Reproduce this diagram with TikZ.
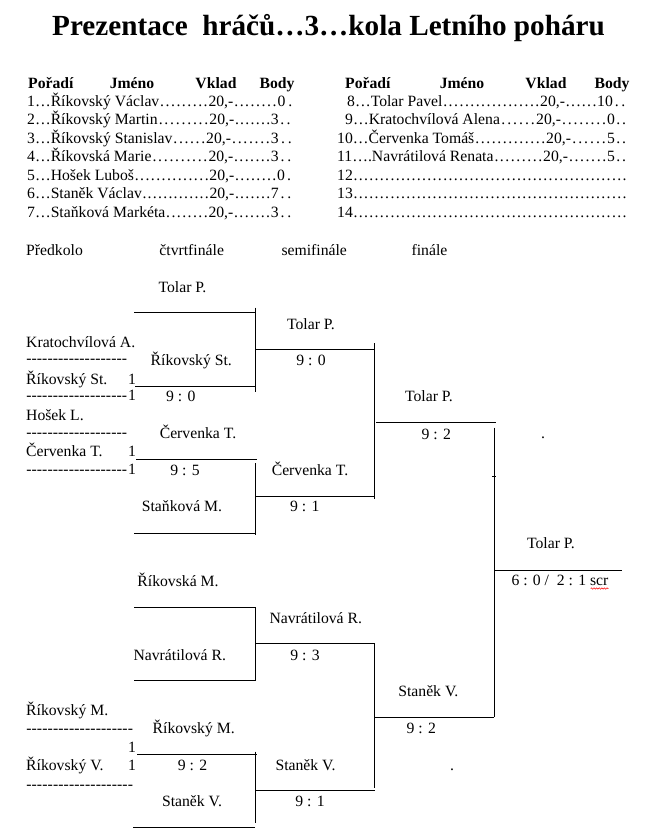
\documentclass[tikz,border=0pt]{standalone}
\usepackage{fontspec}
\setmainfont{Liberation Serif}
\usetikzlibrary{decorations.pathmorphing,calc}
\newcommand\ld{\xleaders\hbox to 5.2pt{\hss.\hss}\hfill}
\newcommand\trow[6]{\hbox to \dimexpr #3pt-#1pt\relax{#2\ld}\hbox to \dimexpr #5pt-#3pt\relax{20,-\ld}\hbox to \dimexpr #6pt-#5pt\relax{#4\ld}}
\newcommand\hyrow[1]{\hbox to #1pt{\xleaders\hbox{-}\hfill}}
\begin{document}
\begin{tikzpicture}[x=1pt,y=-1pt,
  t/.style={anchor=base, inner sep=0pt, font=\fontsize{15.7}{15.7}\selectfont},
  tl/.style={t, anchor=base west},
  hd/.style={t, font=\fontsize{15.7}{15.7}\selectfont\bfseries},
  ln/.style={line width=0.9pt}]
\fill[white] (0,0) rectangle (660,838);
\useasboundingbox (0,0) rectangle (660,838);
% title
\node[anchor=base, inner sep=0pt, font=\fontsize{29.2}{29.2}\selectfont\bfseries] (title) at (328.5,35) {Prezentace\ \ hráčů…3…kola Letního poháru};
% table headers
\node[hd, anchor=base west] (h1) at (28,88) {Pořadí};
\node[hd] (h2) at (132,88) {Jméno};
\node[hd] (h3) at (216,88) {Vklad};
\node[hd] (h4) at (277,88) {Body};
\node[hd, anchor=base west] (h5) at (345,88) {Pořadí};
\node[hd] (h6) at (462,88) {Jméno};
\node[hd] (h7) at (546,88) {Vklad};
\node[hd] (h8) at (612,88) {Body};
% left table rows
\node[tl] (r1) at (27,106) {\trow{27}{1…Říkovský Václav}{208.3}{0}{277.3}{295}};
\node[tl] (r2) at (27,124.5) {\trow{27}{2…Říkovský Martin}{209.3}{3}{270.7}{292}};
\node[tl] (r3) at (27,143) {\trow{27}{3…Říkovský Stanislav}{206}{3}{270.7}{294}};
\node[tl] (r4) at (27,161.5) {\trow{27}{4…Říkovská Marie}{208.3}{3}{270.7}{293}};
\node[tl] (r5) at (27,180) {\trow{27}{5…Hošek Luboš}{209.3}{0}{277}{293}};
\node[tl] (r6) at (27,198.5) {\trow{27}{6…Staněk Václav}{209.3}{7}{270.7}{293}};
\node[tl] (r7) at (27,217) {\trow{27}{7…Staňková Markéta}{208.3}{3}{270.7}{293}};
% right table rows
\node[tl] (r8) at (347,106) {\trow{347}{8…Tolar Pavel}{540}{10}{597}{627}};
\node[tl] (r9) at (345,124.5) {\trow{345}{9…Kratochvílová Alena}{536}{0}{607}{627}};
\node[tl] (r10) at (337,143) {\trow{337}{10…Červenka Tomáš}{546}{5}{607}{627}};
\node[tl] (r11) at (337,161.5) {\trow{337}{11….Navrátilová Renata}{543}{5}{607}{627}};
\node[tl] (r12) at (337,180) {\hbox to 290pt{12\ld}};
\node[tl] (r13) at (337,198.5) {\hbox to 290pt{13\ld}};
\node[tl] (r14) at (337,217) {\hbox to 290pt{14\ld}};
% round headers
\node[tl] (c1) at (26,255) {Předkolo};
\node[t] (c2) at (191.7,255) {čtvrtfinále};
\node[t] (c3) at (314.2,255) {semifinále};
\node[t] (c4) at (429.5,255) {finále};
% preliminary round (left)
\node[tl] (p1) at (26,347) {Kratochvílová A.};
\node[tl] (hy1) at (26,363.5) {\hyrow{101}};
\node[tl] (p2) at (26,384) {Říkovský St.};
\node[tl] (p2n) at (128,384) {1};
\node[tl] (hy2) at (26,400.5) {\hyrow{101}};
\node[tl] (hy2n) at (128,400.5) {1};
\node[tl] (p3) at (26,420) {Hošek L.};
\node[tl] (hy3) at (26,437) {\hyrow{101}};
\node[tl] (p4) at (26,456.7) {Červenka T.};
\node[tl] (p4n) at (128,456.7) {1};
\node[tl] (hy4) at (26,474) {\hyrow{101}};
\node[tl] (hy4n) at (128,474) {1};
\node[tl] (p5) at (26,715.7) {Říkovský M.};
\node[tl] (hy5) at (26,733) {\hyrow{107}};
\node[tl] (p5n) at (128,752) {1};
\node[tl] (p6) at (26,770) {Říkovský V.};
\node[tl] (p6n) at (128,770) {1};
\node[tl] (hy6) at (26,789) {\hyrow{107}};
% quarterfinal
\node[t] (q1) at (182.5,292) {Tolar P.};
\node[t] (q2) at (191.3,365) {Říkovský St.};
\node[t] (q2s) at (180.8,401.7) {9 : 0};
\node[t] (q3) at (198,438) {Červenka T.};
\node[t] (q3s) at (185,475.7) {9 : 5};
\node[t] (q4) at (182,511.7) {Staňková M.};
\node[t] (q5) at (178,586) {Říkovská M.};
\node[t] (q6) at (179.8,660) {Navrátilová R.};
\node[t] (q7) at (193.7,733) {Říkovský M.};
\node[t] (q7s) at (192.5,770) {9 : 2};
\node[t] (q8) at (192,806.7) {Staněk V.};
% semifinal
\node[t] (s1) at (311,329) {Tolar P.};
\node[t] (s1s) at (311,365) {9 : 0};
\node[t] (s2) at (310,475.7) {Červenka T.};
\node[t] (s2s) at (304.8,511.7) {9 : 1};
\node[t] (s3) at (315.8,623) {Navrátilová R.};
\node[t] (s3s) at (305,660) {9 : 3};
\node[t] (s4) at (305.5,770) {Staněk V.};
\node[t] (s4s) at (310,806.7) {9 : 1};
% final
\node[t] (f1) at (429,401.7) {Tolar P.};
\node[t] (f1s) at (436.3,439) {9 : 2};
\node[t] (f2) at (428.3,696.7) {Staněk V.};
\node[t] (f2s) at (421.3,733) {9 : 2};
\node[t] (d1) at (543,438.5) {.};
\node[t] (d2) at (452,770) {.};
% winner
\node[t] (w) at (551,548) {Tolar P.};
\node[t] (res) at (560,585) {6 : 0 /\ \ 2 : 1 scr};
\draw[red, line width=0.5pt, decorate, decoration={snake, amplitude=0.7pt, segment length=2.6pt}]
  ($(res.base east)+(-18,3.5)$) -- ($(res.base east)+(0,3.5)$);
% bracket lines
\draw[ln] (134,312) -- (255,312);
\draw[ln] (255,307.5) -- (255,392);
\draw[ln] (135,386) -- (256,386);
\draw[ln] (256,349) -- (375,349);
\draw[ln] (374.5,343) -- (374.5,499);
\draw[ln] (136,459) -- (257,459);
\draw[ln] (255,463) -- (255,535);
\draw[ln] (134,533) -- (255,533);
\draw[ln] (255,496.5) -- (374.5,496.5);
\draw[ln] (376,422) -- (496,422);
\draw[ln] (494.3,427.5) -- (494.3,717);
\draw[ln] (374,717) -- (494.3,717);
\draw[ln] (494.3,570) -- (622,570);
\draw[line width=0.6pt] (492,476) -- (496,476);
\draw[ln] (134,607) -- (255,607) -- (255,680) -- (134,680);
\draw[ln] (255,643) -- (374.5,643) -- (374.5,788);
\draw[ln] (255,790.5) -- (374.5,790.5);
\draw[ln] (137,754) -- (257,754);
\draw[ln] (255,751.5) -- (255,823);
\draw[ln] (133,827) -- (255,827);
\end{tikzpicture}
\end{document}
